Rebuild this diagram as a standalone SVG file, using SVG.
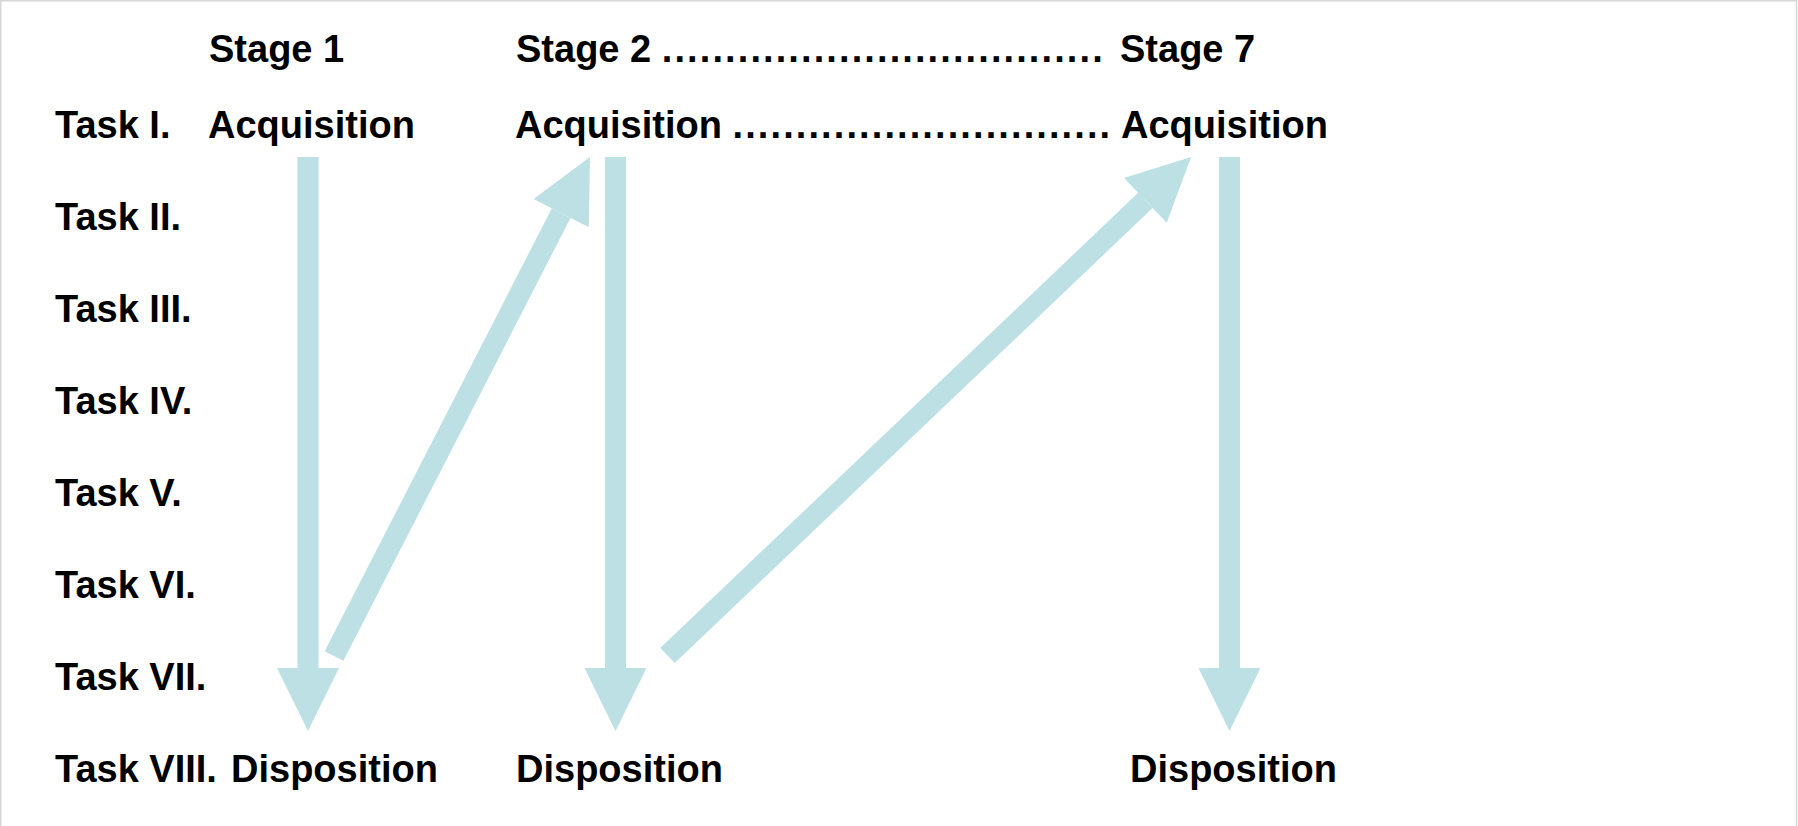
<svg xmlns="http://www.w3.org/2000/svg" width="1798" height="826" viewBox="0 0 1798 826">
  <style>
    .lbl { font-family: "Liberation Sans", Arial, Helvetica, sans-serif; font-weight: bold; font-size: 38px; fill: #000; }
    .dots { letter-spacing: 2.1px; }
    .flow { stroke: #bce0e4; stroke-width: 21; stroke-linecap: butt; fill: none; marker-end: url(#head); }
    .frame { stroke: #d6d6d6; stroke-width: 1.5; fill: none; }
  </style>
  <defs>
    <marker id="head" markerUnits="userSpaceOnUse" markerWidth="64" markerHeight="62" refX="0" refY="31" orient="auto" overflow="visible">
      <path d="M0,0 L63,31 L0,62 Z" fill="#bce0e4"/>
    </marker>
  </defs>

  <rect width="1798" height="826" fill="#ffffff"/>
  <path class="frame" d="M0.75,826 V0.75 H1796.5 V826"/>

  <!-- column headers -->
  <g id="stages">
    <text class="lbl" x="209" y="62">Stage 1</text>
    <text class="lbl" x="516" y="62">Stage 2 <tspan class="dots" x="661.8">...................................</tspan><tspan x="1120">Stage 7</tspan></text>
  </g>

  <!-- row labels -->
  <g id="tasks">
    <text class="lbl" x="55" y="138">Task I.</text>
    <text class="lbl" x="55" y="230">Task II.</text>
    <text class="lbl" x="55" y="322">Task III.</text>
    <text class="lbl" x="55" y="414">Task IV.</text>
    <text class="lbl" x="55" y="506">Task V.</text>
    <text class="lbl" x="55" y="598">Task VI.</text>
    <text class="lbl" x="55" y="690">Task VII.</text>
    <text class="lbl" x="55" y="782">Task VIII.</text>
  </g>

  <!-- stage 1 column -->
  <g id="stage1">
    <text class="lbl" x="208" y="138">Acquisition</text>
    <text class="lbl" x="231" y="782">Disposition</text>
  </g>

  <!-- stage 2 column -->
  <g id="stage2">
    <text class="lbl" x="515" y="138">Acquisition <tspan class="dots" x="732.5">..............................</tspan><tspan x="1121">Acquisition</tspan></text>
    <text class="lbl" x="516" y="782">Disposition</text>
  </g>

  <!-- stage 7 column -->
  <g id="stage7">
    <text class="lbl" x="1130" y="782">Disposition</text>
  </g>

  <!-- arrows: downward within a stage, diagonal back to the next stage -->
  <g id="connectors">
    <line class="flow" x1="308" y1="157" x2="308" y2="668"/>
    <line class="flow" x1="615.5" y1="157" x2="615.5" y2="668"/>
    <line class="flow" x1="1229.5" y1="157" x2="1229.5" y2="668"/>
    <line class="flow" x1="334" y1="656" x2="561.2" y2="213.1"/>
    <line class="flow" x1="667.5" y1="655.5" x2="1145.4" y2="200.4"/>
  </g>
</svg>
